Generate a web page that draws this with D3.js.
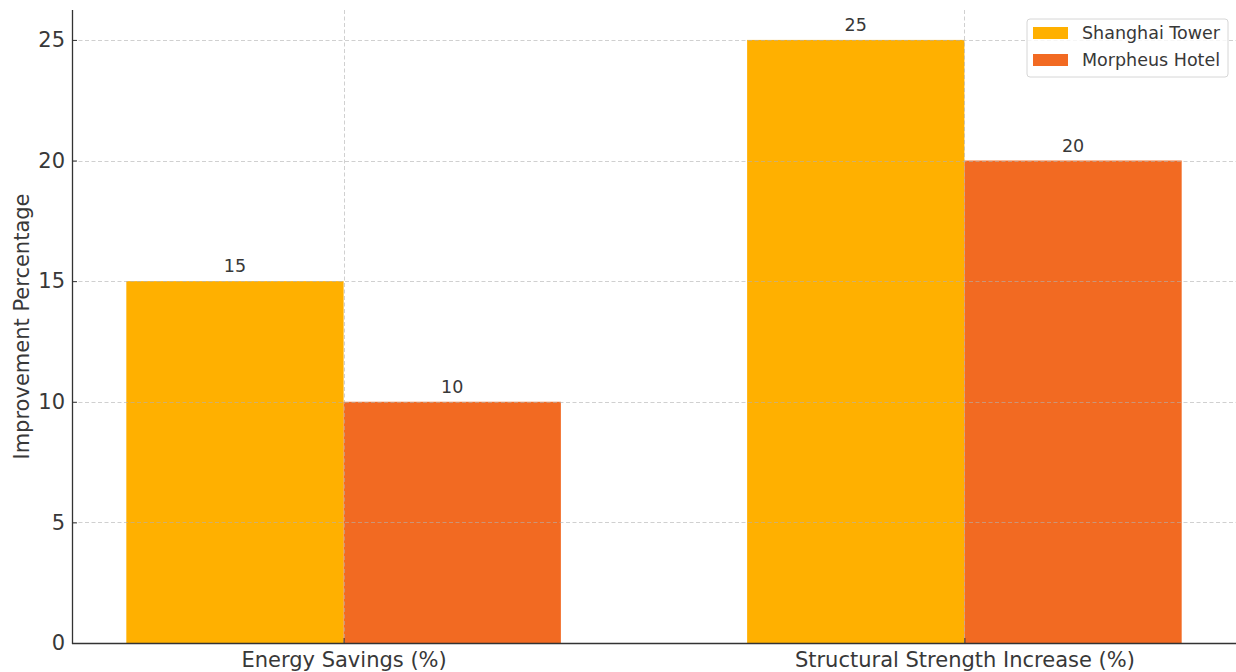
<!DOCTYPE html>
<html>
<head>
<meta charset="utf-8">
<script src="https://cdn.jsdelivr.net/npm/d3@7"></script>
<style>
  body { margin: 0; background: #fff; }
  svg { display: block; font-family: "DejaVu Sans", sans-serif; }
</style>
</head>
<body>
<svg id="chart" width="1236" height="672"></svg>
<script>
var categories = ["Energy Savings (%)", "Structural Strength Increase (%)"];
var seriesNames = ["Shanghai Tower", "Morpheus Hotel"];
var shanghaiValues = [15, 25];
var morpheusValues = [10, 20];
var yTicks = [0, 5, 10, 15, 20, 25];
var colors = ["#FFB000", "#F26A22"];

var svg = d3.select("#chart");
var margin = {left: 72, right: 0, top: 10, bottom: 29};
var W = 1236, H = 672;
var textColor = "#383838";
var fontBig = 21, fontSmall = 17.5;

// matplotlib-like positions: category i at x=i, bars width 0.35
var barW = 0.35;
var x = d3.scaleLinear().domain([-0.4375, 1.4375]).range([margin.left, W - margin.right]);
var y = d3.scaleLinear().domain([0, 26.24]).range([H - margin.bottom, margin.top]);

var series = [shanghaiValues, morpheusValues];
var bars = [];
series.forEach(function(vals, s) {
  vals.forEach(function(v, i) {
    bars.push({s: s, i: i, v: v});
  });
});

var g = svg.append("g");

g.selectAll("rect.bar").data(bars).enter().append("rect")
  .attr("class", "bar")
  .attr("x", function(d) { return d.s === 0 ? x(d.i - barW) : x(d.i); })
  .attr("width", function(d) { return x(barW) - x(0); })
  .attr("y", function(d) { return y(d.v); })
  .attr("height", function(d) { return y(0) - y(d.v); })
  .attr("fill", function(d) { return colors[d.s]; });

// grid on top of bars
var grid = g.append("g").attr("stroke", "#b0b0b0").attr("stroke-opacity", 0.6)
  .attr("stroke-dasharray", "4,2.5").attr("stroke-width", 1);
yTicks.slice(1).forEach(function(t) {
  grid.append("line").attr("x1", margin.left).attr("x2", W - margin.right)
    .attr("y1", Math.round(y(t)) + 0.5).attr("y2", Math.round(y(t)) + 0.5);
});
categories.forEach(function(c, i) {
  grid.append("line").attr("x1", Math.round(x(i)) + 0.5).attr("x2", Math.round(x(i)) + 0.5)
    .attr("y1", margin.top).attr("y2", y(0));
});

// value labels
g.selectAll("text.val").data(bars).enter().append("text")
  .attr("class", "val")
  .attr("x", function(d) { return x(d.s === 0 ? d.i - barW / 2 : d.i + barW / 2); })
  .attr("y", function(d) { return y(d.v) - 9; })
  .attr("text-anchor", "middle")
  .attr("font-size", fontSmall)
  .attr("fill", textColor)
  .text(function(d) { return d.v; });

// axes
var yAxis = d3.axisLeft(y).tickValues(yTicks).tickSizeInner(-5).tickSizeOuter(0).tickPadding(7);
var ya = svg.append("g").attr("transform", "translate(" + margin.left + ",0)").call(yAxis);
ya.select(".domain").remove();
ya.selectAll("line").attr("stroke", "#333");
ya.selectAll("text").attr("font-size", fontBig).attr("fill", textColor)
  .attr("font-family", "DejaVu Sans, sans-serif");

var xAxis = d3.axisBottom(x).tickValues([0, 1]).tickFormat(function(d) { return categories[d]; })
  .tickSizeInner(-5).tickSizeOuter(0).tickPadding(9);
var xa = svg.append("g").attr("transform", "translate(0," + y(0) + ")").call(xAxis);
xa.select(".domain").remove();
xa.selectAll("line").attr("stroke", "#333");
xa.selectAll("text").attr("font-size", fontBig).attr("fill", textColor)
  .attr("font-family", "DejaVu Sans, sans-serif");

// spines
svg.append("line").attr("x1", margin.left + 0.5).attr("x2", margin.left + 0.5)
  .attr("y1", margin.top).attr("y2", y(0) + 1).attr("stroke", "#333").attr("stroke-width", 1.3);
svg.append("line").attr("x1", margin.left).attr("x2", W)
  .attr("y1", y(0) + 0.5).attr("y2", y(0) + 0.5).attr("stroke", "#333").attr("stroke-width", 1.3);

// y label
svg.append("text")
  .attr("transform", "translate(29," + ((margin.top + y(0)) / 2) + ") rotate(-90)")
  .attr("text-anchor", "middle")
  .attr("font-size", fontBig)
  .attr("fill", textColor)
  .text("Improvement Percentage");

// legend
var lg = svg.append("g").attr("transform", "translate(1027,19)");
lg.append("rect").attr("width", 201).attr("height", 58).attr("rx", 3)
  .attr("fill", "#fff").attr("fill-opacity", 0.8).attr("stroke", "#d6d6d6");
seriesNames.forEach(function(n, i) {
  lg.append("rect").attr("x", 6).attr("y", 8 + i * 27).attr("width", 35).attr("height", 12)
    .attr("fill", colors[i]);
  lg.append("text").attr("x", 55).attr("y", 20 + i * 27).attr("font-size", fontSmall)
    .attr("fill", textColor).text(n);
});
</script>
</body>
</html>
